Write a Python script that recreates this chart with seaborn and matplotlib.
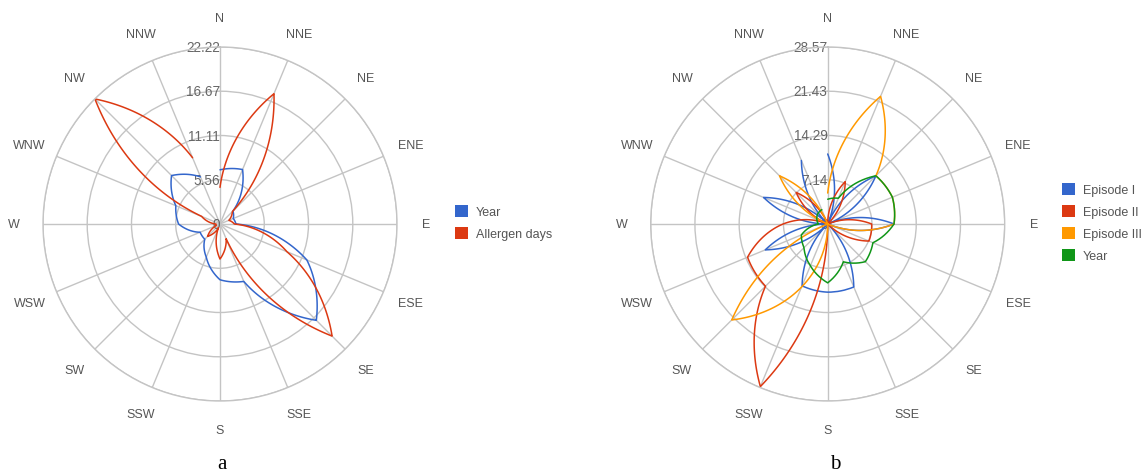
import numpy as np
import pandas as pd
import matplotlib
matplotlib.use("Agg")
import matplotlib.pyplot as plt
from matplotlib.patches import Patch
import seaborn as sns

# Compass sectors, clockwise from north
directions = ["N", "NNE", "NE", "ENE", "E", "ESE", "SE", "SSE",
              "S", "SSW", "SW", "WSW", "W", "WNW", "NW", "NNW"]

# Panel a: wind-direction frequency (%)
a_year = [6.8, 7.4, 2.3, 1.8, 2.0, 11.8, 17.1, 7.8,
          7.0, 4.5, 2.7, 2.7, 5.2, 6.0, 8.6, 6.4]
a_allergen = [4.6, 17.7, 2.2, 1.2, 1.8, 9.1, 19.9, 2.0,
              4.4, 0.5, 2.2, 0.5, 0.5, 2.5, 22.2, 9.0]
a_series = ["Year", "Allergen days"]
a_ring_labels = ["5.56", "11.11", "16.67", "22.22"]

# Panel b: wind-direction frequency (%) per episode
b_episode1 = [11.3, 0.0, 11.0, 0.0, 10.7, 0.0, 0.0, 11.0,
              11.0, 10.8, 0.0, 10.9, 0.0, 11.2, 0.0, 11.1]
b_episode2 = [0.0, 7.4, 0.0, 0.0, 7.1, 7.2, 0.0, 0.0,
              0.0, 28.4, 14.2, 14.0, 7.2, 0.0, 7.2, 0.0]
b_episode3 = [5.0, 22.3, 11.0, 11.3, 10.7, 0.0, 0.0, 0.0,
              0.0, 11.0, 21.9, 0.0, 0.0, 0.0, 11.0, 0.0]
b_year = [4.0, 4.5, 11.0, 11.3, 10.7, 7.9, 8.6, 6.6,
          9.5, 7.3, 5.4, 4.6, 1.5, 1.9, 2.3, 2.5]
b_series = ["Episode I", "Episode II", "Episode III", "Year"]
b_ring_labels = ["7.14", "14.29", "21.43", "28.57"]

a_colors = ["#3366CC", "#DC3912"]
b_colors = ["#3366CC", "#DC3912", "#FF9900", "#109618"]

sns.set_theme(style="white")
plt.rcParams["font.family"] = ["Liberation Sans", "DejaVu Sans"]

W, H = 1145, 477
fig = plt.figure(figsize=(W / 100, H / 100), dpi=100)

GRID = "#c4c4c4"
TEXT = "#555555"
R_PX = 177  # plot radius in pixels


def polar_axes(cx, cy):
    rect = [(cx - R_PX) / W, (H - cy - R_PX) / H, 2 * R_PX / W, 2 * R_PX / H]
    return fig.add_axes(rect, projection="polar")


def long_frame(series_names, values):
    theta = np.deg2rad(np.arange(len(directions)) * 360.0 / len(directions))
    rows = []
    for name, vals in zip(series_names, values):
        for t, d, v in zip(theta, directions, vals):
            rows.append({"theta": t, "direction": d, "value": v, "series": name})
    return pd.DataFrame(rows)


def draw_panel(ax, df, series_names, colors, ring_labels):
    sns.lineplot(data=df, x="theta", y="value", hue="series",
                 hue_order=series_names, palette=colors, sort=False,
                 estimator=None, legend=False, linewidth=1.1, ax=ax)
    # follow the polar coordinates between sectors
    for line in ax.lines:
        line.get_path()._interpolation_steps = 80

    ax.set_theta_zero_location("N")
    ax.set_theta_direction(-1)
    ring_vals = [float(s) for s in ring_labels]
    ax.set_ylim(0, ring_vals[-1])
    ax.set_yticks(ring_vals)
    ax.set_yticklabels([])
    theta = np.deg2rad(np.arange(len(directions)) * 360.0 / len(directions))
    ax.set_xticks(theta)
    ax.set_xticklabels(directions, color=TEXT, fontsize=9)
    ax.tick_params(axis="x", pad=14, length=0)
    ax.tick_params(axis="y", length=0)
    ax.grid(True, color=GRID, linewidth=1.0)
    ax.spines["polar"].set_color(GRID)
    ax.spines["polar"].set_linewidth(1.0)
    ax.set_xlabel("")
    ax.set_ylabel("")
    ax.set_facecolor("white")
    for v, s in zip([0.0] + ring_vals, ["0"] + ring_labels):
        ax.text(0, v, s, ha="right", va="center", fontsize=9.8,
                color="#666666", zorder=1)


ax_a = polar_axes(220, 225)
draw_panel(ax_a, long_frame(a_series, [a_year, a_allergen]),
           a_series, a_colors, a_ring_labels)

ax_b = polar_axes(827.7, 225)
draw_panel(ax_b, long_frame(b_series, [b_episode1, b_episode2, b_episode3, b_year]),
           b_series, b_colors, b_ring_labels)


def legend(names, colors, x, y):
    handles = [Patch(facecolor=c, edgecolor="none", label=n) for n, c in zip(names, colors)]
    fig.legend(handles=handles, loc="upper left", bbox_to_anchor=(x / W, 1 - y / H),
               frameon=False, fontsize=9, handlelength=1.05, handleheight=1.05,
               handletextpad=0.6, labelspacing=0.72, borderpad=0, borderaxespad=0,
               labelcolor=TEXT)


legend(a_series, a_colors, 455, 206)
legend(b_series, b_colors, 1062, 184)

fig.text(222 / W, 1 - 465 / H, "a", ha="center", va="center",
         family="Liberation Serif", fontsize=15, color="black")
fig.text(835 / W, 1 - 465 / H, "b", ha="center", va="center",
         family="Liberation Serif", fontsize=15, color="black")

fig.savefig("out.png", dpi=100, facecolor="white")
